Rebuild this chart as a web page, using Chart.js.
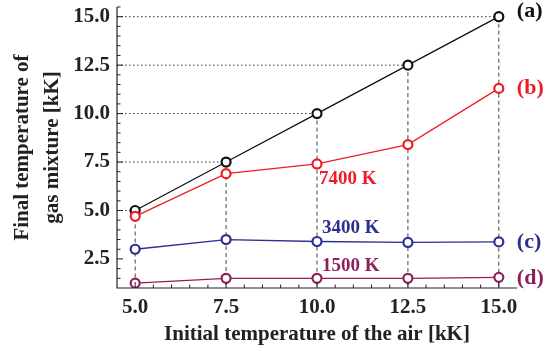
<!DOCTYPE html>
<html lang="en">
<head>
  <meta charset="UTF-8">
  <title>Final temperature of gas mixture</title>
  <script src="https://cdn.jsdelivr.net/npm/chart.js"></script>
  <style>
    * { margin: 0; padding: 0; box-sizing: border-box; }
    body { background: #fff; width: 555px; height: 351px; overflow: hidden; }
    canvas { display: block; }
  </style>
</head>
<body>
  <canvas id="mixChart" width="555" height="351"></canvas>

  <script>
    // Data
    const airTemps = [5.0, 7.5, 10.0, 12.5, 15.0];
    const seriesA = [5.0, 7.5, 10.0, 12.5, 15.0];
    const seriesB = [4.7, 6.9, 7.4, 8.4, 11.3];
    const seriesC = [3.0, 3.5, 3.4, 3.35, 3.38];
    const seriesD = [1.25, 1.5, 1.5, 1.5, 1.55];
    const xTicks = [5.0, 7.5, 10.0, 12.5, 15.0];
    const yTicks = [2.5, 5.0, 7.5, 10.0, 12.5, 15.0];
    const seriesTags = ['(a)', '(b)', '(c)', '(d)'];
    const tempLabels = ['7400 K', '3400 K', '1500 K'];

    const colors = ['#111111', '#ee1c24', '#2b2f8f', '#8c1f5c'];
    const serif = '"Liberation Serif", "DejaVu Serif", serif';

    function toPoints(ys) {
      return airTemps.map((x, i) => ({ x: x, y: ys[i] }));
    }

    function makeSet(label, ys, color) {
      return {
        label: label,
        data: toPoints(ys),
        borderColor: color,
        backgroundColor: '#fff',
        borderWidth: 1.3,
        pointRadius: 4.5,
        pointBorderWidth: 2.2,
        pointBackgroundColor: '#fff',
        pointBorderColor: color,
        tension: 0
      };
    }

    // guides, inside ticks and text annotations
    const extras = {
      id: 'extras',
      beforeDatasetsDraw(chart) {
        const { ctx, scales: { x, y } } = chart;
        ctx.save();
        ctx.lineWidth = 1;
        // horizontal dotted guides to the (a) points
        ctx.strokeStyle = '#333';
        ctx.setLineDash([1.5, 2.5]);
        seriesA.forEach((v, i) => {
          const py = y.getPixelForValue(v);
          ctx.beginPath();
          ctx.moveTo(x.left, py);
          ctx.lineTo(x.getPixelForValue(airTemps[i]), py);
          ctx.stroke();
        });
        // vertical dashed drops from the (a) points
        ctx.strokeStyle = '#444';
        ctx.setLineDash([4, 3]);
        seriesA.forEach((v, i) => {
          const px = x.getPixelForValue(airTemps[i]);
          ctx.beginPath();
          ctx.moveTo(px, y.getPixelForValue(v));
          ctx.lineTo(px, y.bottom);
          ctx.stroke();
        });
        ctx.restore();
      },
      afterDraw(chart) {
        const { ctx, scales: { x, y } } = chart;
        ctx.save();
        // axes
        ctx.strokeStyle = '#222';
        ctx.lineWidth = 1.2;
        ctx.beginPath();
        ctx.moveTo(x.left, y.top);
        ctx.lineTo(x.left, y.bottom);
        ctx.lineTo(x.right, y.bottom);
        ctx.stroke();
        // inside ticks, major every 2.5, minor every 0.5
        ctx.lineWidth = 1;
        for (let v = 1.5; v <= 15.5; v += 0.5) {
          const major = Math.abs(v / 2.5 - Math.round(v / 2.5)) < 1e-6;
          const py = y.getPixelForValue(v);
          ctx.beginPath();
          ctx.moveTo(x.left, py);
          ctx.lineTo(x.left + (major ? 6 : 3.5), py);
          ctx.stroke();
        }
        for (let v = 5.0; v <= 15.0; v += 0.5) {
          const major = Math.abs(v / 2.5 - Math.round(v / 2.5)) < 1e-6;
          const px = x.getPixelForValue(v);
          ctx.beginPath();
          ctx.moveTo(px, y.bottom);
          ctx.lineTo(px, y.bottom - (major ? 6 : 3.5));
          ctx.stroke();
        }
        // series tags at the right end
        ctx.font = 'bold 22px ' + serif;
        ctx.textBaseline = 'middle';
        ctx.textAlign = 'left';
        const lastVals = [seriesA[4], seriesB[4], seriesC[4], seriesD[4]];
        const tagOffsets = [-5, 0, 0, 1];
        const xEnd = x.getPixelForValue(airTemps[4]);
        seriesTags.forEach((t, i) => {
          ctx.fillStyle = colors[i];
          ctx.fillText(t, xEnd + 18, y.getPixelForValue(lastVals[i]) + tagOffsets[i]);
        });
        // temperature labels near x = 10
        ctx.font = 'bold 19px ' + serif;
        const px10 = x.getPixelForValue(10);
        ctx.fillStyle = colors[1];
        ctx.fillText(tempLabels[0], px10 + 2, y.getPixelForValue(seriesB[2]) + 15);
        ctx.fillStyle = colors[2];
        ctx.fillText(tempLabels[1], px10 + 5, y.getPixelForValue(seriesC[2]) - 13);
        ctx.fillStyle = colors[3];
        ctx.fillText(tempLabels[2], px10 + 5, y.getPixelForValue(seriesD[2]) - 12);
        ctx.restore();
      }
    };

    const ctx = document.getElementById('mixChart').getContext('2d');
    new Chart(ctx, {
      type: 'line',
      data: {
        datasets: [
          makeSet('(d)', seriesD, colors[3]),
          makeSet('(c)', seriesC, colors[2]),
          makeSet('(b)', seriesB, colors[1]),
          makeSet('(a)', seriesA, colors[0])
        ]
      },
      options: {
        responsive: false,
        animation: false,
        layout: { padding: { top: 7, right: 38, left: 0, bottom: 0 } },
        plugins: { legend: { display: false }, tooltip: { enabled: false } },
        scales: {
          x: {
            type: 'linear',
            min: 4.5,
            max: 15.5,
            afterBuildTicks: (s) => { s.ticks = xTicks.map(v => ({ value: v })); },
            afterFit: (s) => { s.height = 63; s.paddingLeft = 0; s.paddingRight = 0; },
            grid: { display: false, drawTicks: false },
            border: { display: false },
            ticks: {
              color: '#222',
              padding: 7,
              maxRotation: 0,
              font: { family: serif, size: 21, weight: 'bold' },
              callback: (v) => Number(v).toFixed(1)
            },
            title: {
              display: true,
              text: 'Initial temperature of the air [kK]',
              color: '#222',
              font: { family: serif, size: 21, weight: 'bold' },
              padding: { top: 2 }
            }
          },
          y: {
            min: 1.0,
            max: 15.5,
            afterBuildTicks: (s) => { s.ticks = yTicks.map(v => ({ value: v })); },
            afterFit: (s) => { s.width = 117; s.paddingTop = 0; s.paddingBottom = 0; },
            grid: { display: false, drawTicks: false },
            border: { display: false },
            ticks: {
              color: '#222',
              padding: 7,
              font: { family: serif, size: 21, weight: 'bold' },
              callback: (v) => Number(v).toFixed(1)
            },
            title: {
              display: true,
              text: ['Final temperature of', 'gas mixture [kK]'],
              color: '#222',
              font: { family: serif, size: 21, weight: 'bold', lineHeight: 1.4 },
              padding: { top: 8, bottom: 0 }
            }
          }
        }
      },
      plugins: [extras]
    });
  </script>
</body>
</html>
